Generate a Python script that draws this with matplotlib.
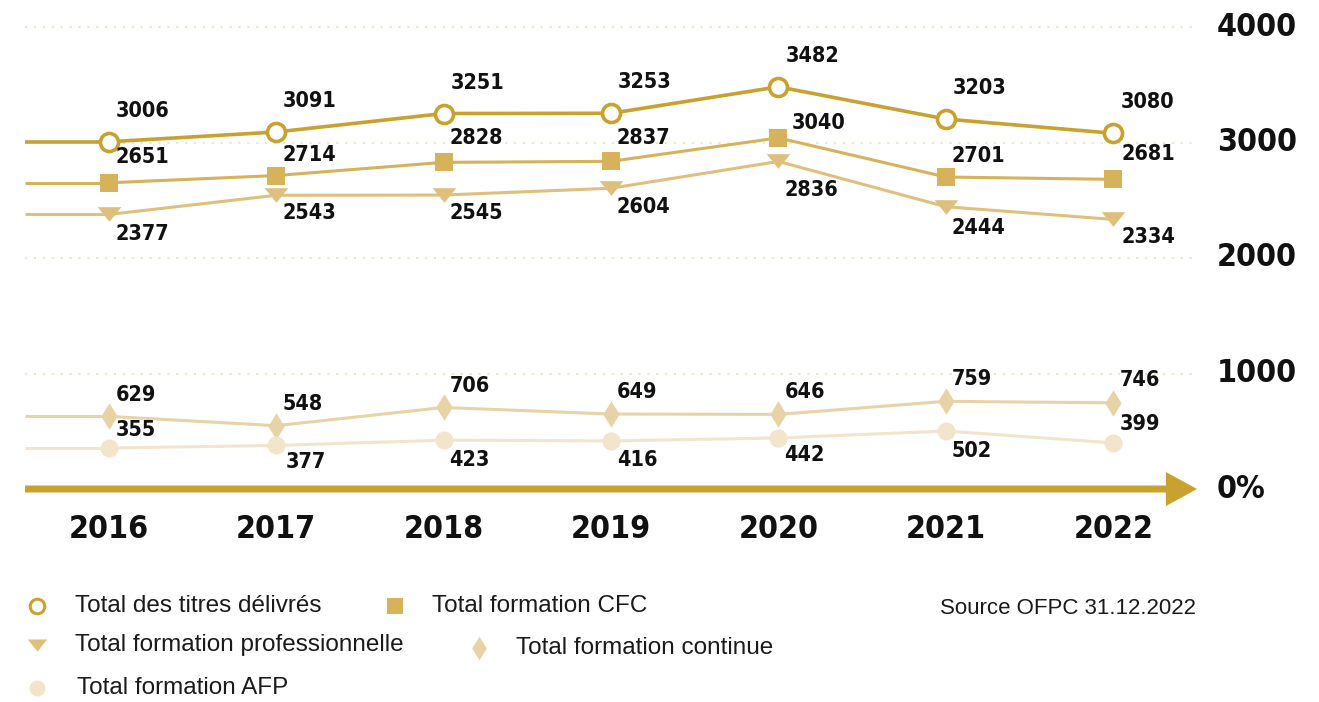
import matplotlib
matplotlib.use("Agg")
import matplotlib.pyplot as plt
from matplotlib import font_manager
from matplotlib.font_manager import FontProperties
from matplotlib.path import Path
from matplotlib.lines import Line2D
from matplotlib.patches import FancyArrowPatch
import matplotlib.transforms as mtransforms

# ---------------- data ----------------
years = ["2016", "2017", "2018", "2019", "2020", "2021", "2022"]
total_titres = [3006, 3091, 3251, 3253, 3482, 3203, 3080]
total_cfc = [2651, 2714, 2828, 2837, 3040, 2701, 2681]
total_pro = [2377, 2543, 2545, 2604, 2836, 2444, 2334]
total_continue = [629, 548, 706, 649, 646, 759, 746]
total_afp = [355, 377, 423, 416, 442, 502, 399]
y_ticks = [1000, 2000, 3000, 4000]
y_tick_labels = ["1000", "2000", "3000", "4000"]
zero_label = "0%"
legend_labels = ["Total des titres délivrés", "Total formation CFC",
                 "Total formation professionnelle", "Total formation continue",
                 "Total formation AFP"]
source_text = "Source OFPC 31.12.2022"

# ---------------- fonts ----------------
def has_font(name):
    try:
        font_manager.findfont(FontProperties(family=name), fallback_to_default=False)
        return True
    except Exception:
        return False

_stretch_rank = {"ultra-condensed": 4, "extra-condensed": 3, "condensed": 2,
                 "semi-condensed": 1}

def _wnum(w):
    if isinstance(w, (int, float)):
        return w
    return font_manager.weight_dict.get(w, 400)

best = None
for f in font_manager.fontManager.ttflist:
    nm = f.name.lower()
    if "serif" in nm and "sans" not in nm:
        continue
    if "mono" in nm or "cjk" in nm or "math" in nm:
        continue
    rank = _stretch_rank.get(f.stretch, 0) if isinstance(f.stretch, str) else (
        4 if f.stretch <= 300 else 3 if f.stretch <= 400 else 2 if f.stretch <= 500 else 0)
    fn = f.fname.lower()
    if rank == 0 and ("narrow" in nm or "condensed" in nm or "narrow" in fn or "condensed" in fn):
        rank = 2
    if rank == 0:
        continue
    if "italic" in fn or "oblique" in fn or f.style != "normal":
        continue
    wt = _wnum(f.weight)
    score = rank * 10 - abs(wt - 700) / 100.0
    if best is None or score > best[0]:
        best = (score, f.fname)

if best is not None:
    COND_FP = FontProperties(fname=best[1])
    COND_SCALE = 1.0
else:
    COND_FP = FontProperties(family="DejaVu Sans", weight="bold")
    COND_SCALE = 0.82

LEG_FAMILY = "Liberation Sans" if has_font("Liberation Sans") else "DejaVu Sans"

# ---------------- colours ----------------
C_TOTAL = "#C9A12E"
C_CFC = "#D6B25A"
C_PRO = "#DEC07C"
C_CONT = "#E8D3A6"
C_AFP = "#F2E5CB"
C_GRID = "#F1E6CC"

W, H = 1319, 702
fig = plt.figure(figsize=(W / 100, H / 100), dpi=100)
ax = fig.add_axes([25 / W, 1 - 489 / H, (1197 - 25) / W, (489 - 27) / H])
ax.set_xlim(-0.5, 6.5)
ax.set_ylim(0, 4000)
ax.axis("off")

x = list(range(len(years)))

# custom markers
tri = Path([(-1, 0.62), (1, 0.62), (0, -0.62), (-1, 0.62)],
           [Path.MOVETO, Path.LINETO, Path.LINETO, Path.CLOSEPOLY])
dia = Path([(0, 1), (0.62, 0), (0, -1), (-0.62, 0), (0, 1)],
           [Path.MOVETO, Path.LINETO, Path.LINETO, Path.LINETO, Path.CLOSEPOLY])

# grid lines
for yt in y_ticks:
    ax.axhline(yt, color=C_GRID, lw=1.6, ls=(0, (1, 3)), zorder=0, clip_on=False)

series = [
    (total_titres, C_TOTAL, 2.6, dict(marker="o", ms=13, mfc="white", mec=C_TOTAL, mew=2.6)),
    (total_cfc, C_CFC, 2.2, dict(marker="s", ms=13, mfc=C_CFC, mec=C_CFC, mew=0)),
    (total_pro, C_PRO, 2.2, dict(marker=tri, ms=17, mfc=C_PRO, mec=C_PRO, mew=0)),
    (total_continue, C_CONT, 2.2, dict(marker=dia, ms=19, mfc=C_CONT, mec=C_CONT, mew=0)),
    (total_afp, C_AFP, 2.2, dict(marker="o", ms=13, mfc=C_AFP, mec=C_AFP, mew=0)),
]

for vals, col, lw, mk in series:
    ax.plot([ax.get_xlim()[0], x[0]], [vals[0], vals[0]], color=col, lw=lw,
            solid_capstyle="butt", zorder=2)
    ax.plot(x, vals, color=col, lw=lw, zorder=3, **mk)

# label offsets (pixels, dx, dy upward positive)
label_offsets = [
    [(7, 31)] * 7,
    [(7, 26), (6, 21), (6, 24), (6, 23), (13, 15), (6, 21), (8, 25)],
    [(7, -20), (6, -18), (6, -18), (6, -19), (6, -29), (6, -21), (8, -18)],
    [(7, 21), (6, 22), (6, 21), (6, 22), (6, 22), (6, 22), (6, 23)],
    [(7, 18), (10, -17), (6, -20), (6, -19), (6, -17), (6, -20), (6, 19)],
]
for (vals, col, lw, mk), offs in zip(series, label_offsets):
    for xi, v, (dx, dy) in zip(x, vals, offs):
        ax.annotate(str(v), (xi, v), xytext=(dx, dy), textcoords="offset pixels",
                    ha="left", va="center", fontproperties=COND_FP,
                    fontsize=15.5 * COND_SCALE, color="#111111", zorder=5)

# axis arrow
arrow = FancyArrowPatch((-0.5, 0), (6.5, 0),
                        arrowstyle="simple,head_length=1.6,head_width=1.75,tail_width=0.36",
                        mutation_scale=14, color=C_TOTAL, lw=0, zorder=4,
                        clip_on=False, shrinkA=0, shrinkB=0)
ax.add_patch(arrow)

# y labels on the right
trans_r = mtransforms.blended_transform_factory(ax.transAxes, ax.transData)
for yt, lab in zip(y_ticks, y_tick_labels):
    ax.text(1.017, yt, lab, transform=trans_r, ha="left", va="center",
            fontproperties=COND_FP, fontsize=23 * COND_SCALE, color="#111111")
ax.text(1.017, 0, zero_label, transform=trans_r, ha="left", va="center",
        fontproperties=COND_FP, fontsize=23 * COND_SCALE, color="#111111")

# x labels
trans_x = mtransforms.blended_transform_factory(ax.transData, ax.transAxes)
for xi, yr in zip(x, years):
    ax.text(xi, -41 / 462, yr, transform=trans_x, ha="center", va="center",
            fontproperties=COND_FP, fontsize=23 * COND_SCALE, color="#111111")

# legend (manual layout)
leg_items = [
    (37, 606, 75, dict(marker="o", ms=10.5, mfc="white", mec=C_TOTAL, mew=2.2)),
    (395, 606, 432, dict(marker="s", ms=11, mfc=C_CFC, mec=C_CFC, mew=0)),
    (37, 645, 75, dict(marker=tri, ms=14, mfc=C_PRO, mec=C_PRO, mew=0)),
    (479, 648, 516, dict(marker=dia, ms=17, mfc=C_CONT, mec=C_CONT, mew=0)),
    (37, 688, 77, dict(marker="o", ms=11.5, mfc=C_AFP, mec=C_AFP, mew=0)),
]
for (mx, my, tx, mk), lab in zip(leg_items, legend_labels):
    fig.add_artist(Line2D([mx / W], [1 - my / H], transform=fig.transFigure, ls="none", **mk))
    fig.text(tx / W, 1 - my / H, lab, ha="left", va="center", fontsize=17.5,
             family=LEG_FAMILY, color="#1a1a1a")

fig.text(1196 / W, 1 - 608 / H, source_text, ha="right", va="center", fontsize=16,
         family=LEG_FAMILY, color="#1a1a1a")

fig.savefig("out.png", dpi=100)
